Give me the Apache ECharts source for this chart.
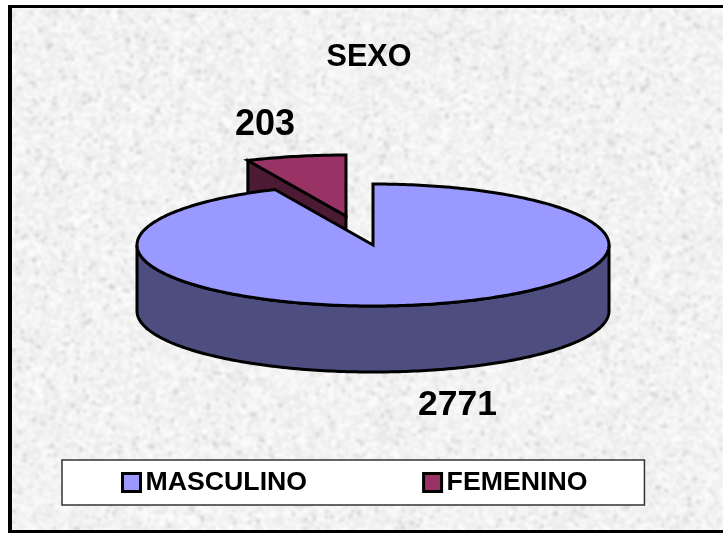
<!DOCTYPE html>
<html>
<head>
<meta charset="utf-8">
<style>html,body{margin:0;padding:0;background:#fff}#c{width:723px;height:533px}</style>
<script src="https://cdn.jsdelivr.net/npm/echarts@6/dist/echarts.min.js"></script>
</head>
<body>
<div id="c"></div>
<script>
const titleText = 'SEXO';
const categories = ['MASCULINO', 'FEMENINO'];
const values = [2771, 203];
const topColors = ['#9999FF', '#993366'];
const sideColors = ['#4D4D80', '#4D1A33'];

const total = values[0] + values[1];
const CX = 373, CY = 245, RX = 236, RY = 61, DEPTH = 66;
const EXPLODE = [-27, -29];
const FONT = '"Liberation Sans", Arial, sans-serif';

function rim(a, ox, oy) {
  return [CX + ox + RX * Math.sin(a), CY + oy - RY * Math.cos(a)];
}
function arc(a0, a1, ox, oy, dy) {
  const n = Math.max(8, Math.ceil(Math.abs(a1 - a0) * 60));
  const pts = [];
  for (let i = 0; i <= n; i++) {
    const p = rim(a0 + (a1 - a0) * i / n, ox, oy);
    pts.push([p[0], p[1] + (dy || 0)]);
  }
  return pts;
}
const edge = { stroke: '#000', lineWidth: 3, lineJoin: 'miter', miterLimit: 10 };
function poly(points, fill, z2) {
  return { type: 'polygon', z2, shape: { points }, style: Object.assign({ fill }, edge) };
}
function tag(text, x, y, size) {
  return {
    type: 'text', z2: 30,
    style: { text, x, y, fill: '#000', font: 'bold ' + size + 'px ' + FONT, textAlign: 'left', textVerticalAlign: 'top' }
  };
}
function renderMale(params, api) {
  const v = api.value(0);
  const end = 2 * Math.PI * v / total;
  const side = arc(Math.PI / 2, 3 * Math.PI / 2, 0, 0, 0)
    .concat(arc(3 * Math.PI / 2, Math.PI / 2, 0, 0, DEPTH));
  const top = [[CX, CY]].concat(arc(0, end, 0, 0, 0));
  return {
    type: 'group',
    children: [
      poly(side, sideColors[0], 1),
      poly(top, topColors[0], 2),
      tag(String(v), 418, 387, 35.5)
    ]
  };
}
function renderFemale(params, api) {
  const v = api.value(0);
  const start = 2 * Math.PI * (1 - v / total);
  const [ox, oy] = EXPLODE;
  const apex = [CX + ox, CY + oy];
  const L = rim(start, ox, oy);
  const wall = [L, apex, [apex[0], apex[1] + DEPTH], [L[0], L[1] + DEPTH]];
  const top = [apex].concat(arc(start, 2 * Math.PI, ox, oy, 0));
  return {
    type: 'group',
    children: [
      poly(wall, sideColors[1], 1),
      poly(top, topColors[1], 2),
      tag(String(v), 235, 107, 36)
    ]
  };
}

// Mottled paper backdrop: deterministic hash noise, not chart data
function paper() {
  const w = 241, h = 178;
  const s = document.createElement('canvas'); s.width = w; s.height = h;
  const g = s.getContext('2d'), im = g.createImageData(w, h);
  let seed = 20231;
  const next = () => (seed = (seed * 1664525 + 1013904223) >>> 0) / 4294967296;
  for (let i = 0; i < w * h; i++) {
    const r = next();
    let v = 230 + r * 25;
    if (r < 0.04) v = 200 + next() * 20;
    im.data[i * 4] = im.data[i * 4 + 1] = im.data[i * 4 + 2] = v;
    im.data[i * 4 + 3] = 255;
  }
  g.putImageData(im, 0, 0);
  const big = document.createElement('canvas'); big.width = 723; big.height = 533;
  const b = big.getContext('2d');
  b.imageSmoothingEnabled = true; b.imageSmoothingQuality = 'high';
  b.filter = 'blur(1px)';
  b.drawImage(s, 0, 0, 723, 533);
  return big;
}

const chart = echarts.init(document.getElementById('c'), null, { renderer: 'canvas' });
chart.setOption({
  animation: false,
  backgroundColor: '#fff',
  title: {
    text: titleText, left: 364, top: 37, textAlign: 'center',
    textStyle: { fontFamily: FONT, fontWeight: 'bold', fontSize: 30.5, color: '#000' }
  },
  legend: {
    data: categories, left: 62, top: 460, orient: 'horizontal', selectedMode: false,
    backgroundColor: '#fff', borderColor: '#333', borderWidth: 1.5,
    padding: [9, 57, 9, 59], itemGap: 115, itemWidth: 18, itemHeight: 18, icon: 'rect',
    itemStyle: { borderColor: '#000', borderWidth: 3 },
    textStyle: { fontFamily: FONT, fontWeight: 'bold', fontSize: 26.7, color: '#000' }
  },
  graphic: [
    { type: 'image', silent: true, z: -10, style: { image: paper(), x: 12, y: 8, width: 711, height: 522 } },
    { type: 'rect', silent: true, z: -9, shape: { x: 8, y: 5, width: 715, height: 3 }, style: { fill: '#000' } },
    { type: 'rect', silent: true, z: -9, shape: { x: 8, y: 5, width: 4, height: 528 }, style: { fill: '#000' } },
    { type: 'rect', silent: true, z: -9, shape: { x: 8, y: 530, width: 715, height: 3 }, style: { fill: '#000' } }
  ],
  series: [
    { type: 'custom', name: categories[1], coordinateSystem: 'none', z: 2, silent: true,
      renderItem: renderFemale, data: [[values[1]]], itemStyle: { color: topColors[1] } },
    { type: 'custom', name: categories[0], coordinateSystem: 'none', z: 3, silent: true,
      renderItem: renderMale, data: [[values[0]]], itemStyle: { color: topColors[0] } }
  ]
});
</script>
</body>
</html>
